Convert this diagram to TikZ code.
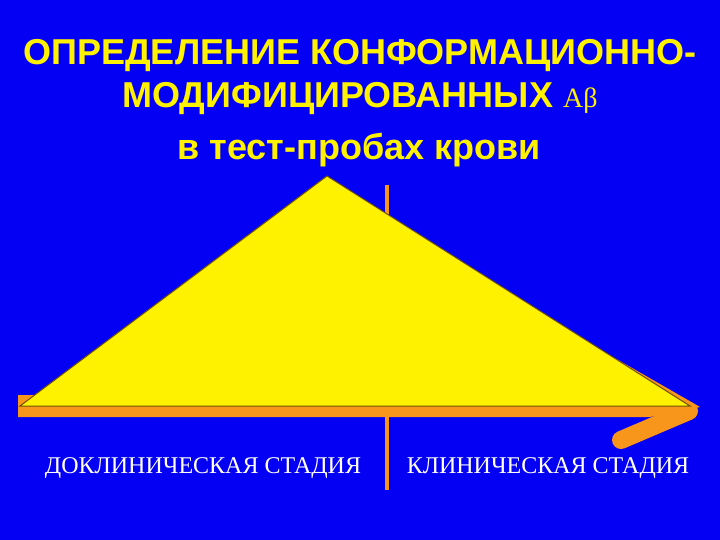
\documentclass[tikz,border=0pt]{standalone}
\usepackage{fontspec}
\newfontfamily\headfont{Liberation Sans}
\newfontfamily\stagefont{Liberation Serif}
\definecolor{slideblue}{RGB}{4,0,244}
\definecolor{arroworange}{RGB}{248,150,28}
\definecolor{edgebrown}{RGB}{110,80,0}
\tikzset{
	headline/.style={text=yellow, anchor=base, inner sep=0pt, font=\headfont\bfseries\fontsize{36}{40}\selectfont},
	stagelabel/.style={text=white, anchor=base, inner sep=0pt, font=\stagefont\fontsize{24}{27}\selectfont}
}
\begin{document}
\begin{tikzpicture}[x=1pt, y=-1pt]
	\fill[slideblue] (0,0) rectangle (720,540);
	\node[headline] (line1) at (360,65) {ОПРЕДЕЛЕНИЕ КОНФОРМАЦИОННО-};
	\node[headline] (line2) at (360,108) {МОДИФИЦИРОВАННЫХ {\stagefont\mdseries\fontsize{28}{30}\selectfont Aβ}};
	\node[headline] (line3) at (359,160) {в тест-пробах крови};
	% time axis with arrow and stage divider
	\draw[arroworange, line width=4pt] (387,185) -- (387,490);
	\fill[arroworange] (18,395) -- (650,395) -- (613,357) -- (700,407) -- (650,417) -- (18,417) -- cycle;
	\draw[arroworange, line width=18pt, line cap=round] (689,411) -- (621,440);
	% curve of the modified Abeta level
	\filldraw[fill=yellow, draw=edgebrown, line width=1pt] (327,176) -- (690,406) -- (20,406) -- cycle;
	\node[stagelabel] (preclin) at (203,473) {ДОКЛИНИЧЕСКАЯ СТАДИЯ};
	\node[stagelabel] (clin) at (548,473) {КЛИНИЧЕСКАЯ СТАДИЯ};
\end{tikzpicture}
\end{document}
